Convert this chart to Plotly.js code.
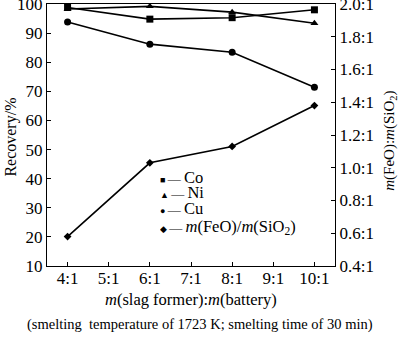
<!DOCTYPE html>
<html>
<head>
<meta charset="utf-8">
<script src="https://cdn.plot.ly/plotly-3.0.1.min.js"></script>
<style>html,body{margin:0;padding:0;background:#fff;}#chart{width:400px;height:340px;}</style>
</head>
<body>
<div id="chart"></div>
<script>
var categories = [4, 6, 8, 10];
var xTickVals = [4, 5, 6, 7, 8, 9, 10];
var xTickText = ['4:1', '5:1', '6:1', '7:1', '8:1', '9:1', '10:1'];
var coRecovery = [98.8, 94.8, 95.3, 98.0];
var niRecovery = [98.3, 99.2, 97.2, 93.4];
var cuRecovery = [93.8, 86.2, 83.4, 71.4];
var feoSio2Ratio = [0.58, 1.03, 1.13, 1.38];
var y2TickVals = [0.4, 0.6, 0.8, 1.0, 1.2, 1.4, 1.6, 1.8, 2.0];
var y2TickText = ['0.4:1', '0.6:1', '0.8:1', '1.0:1', '1.2:1', '1.4:1', '1.6:1', '1.8:1', '2.0:1'];

var font = 'Liberation Serif, Times New Roman, serif';
var lineStyle = {color: '#000', width: 1.6};

var traces = [
  {x: categories, y: coRecovery, name: 'Co', mode: 'lines+markers', line: lineStyle,
   marker: {symbol: 'square', size: 7, color: '#000'}},
  {x: categories, y: niRecovery, name: 'Ni', mode: 'lines+markers', line: lineStyle,
   marker: {symbol: 'triangle-up', size: 7, color: '#000'}},
  {x: categories, y: cuRecovery, name: 'Cu', mode: 'lines+markers', line: lineStyle,
   marker: {symbol: 'circle', size: 7, color: '#000'}},
  {x: categories, y: feoSio2Ratio, name: 'm(FeO)/m(SiO2)', mode: 'lines+markers', line: lineStyle,
   marker: {symbol: 'diamond', size: 6, color: '#000'}, yaxis: 'y2'}
];

function sym(s) { return '<span style="font-size:9px">' + s + ' </span><span style="font-size:13px">— </span>'; }
var legendRows = [
  {t: sym('■') + 'Co', y: 0.338, h: 15},
  {t: sym('▲') + 'Ni', y: 0.279, h: 15},
  {t: sym('●') + 'Cu', y: 0.220, h: 15},
  {t: sym('◆') + '<i>m</i>(FeO)/<i>m</i>(SiO<sub>2</sub>)', y: 0.150, h: 18}
];

var annotations = legendRows.map(function (r) {
  return {xref: 'paper', yref: 'paper', x: 0.385, y: r.y, xanchor: 'left', yanchor: 'middle',
          height: r.h, text: r.t, showarrow: false, font: {family: font, size: 16.5, color: '#000'}};
});
annotations.push(
  {xref: 'paper', yref: 'paper', x: 0.5, y: -0.127, xanchor: 'center', yanchor: 'middle',
   text: '<i>m</i>(slag former):<i>m</i>(battery)', showarrow: false,
   font: {family: font, size: 16.5, color: '#000'}},
  {xref: 'paper', yref: 'paper', x: 0.53, y: -0.225, xanchor: 'center', yanchor: 'middle',
   text: '(smelting  temperature of 1723 K; smelting time of 30 min)', showarrow: false,
   font: {family: font, size: 14.5, color: '#000'}},
  {xref: 'paper', yref: 'paper', x: -0.125, y: 0.49, xanchor: 'center', yanchor: 'middle',
   text: 'Recovery/%', textangle: -90, showarrow: false,
   font: {family: font, size: 16, color: '#000'}},
  {xref: 'paper', yref: 'paper', x: 1.19, y: 0.477, xanchor: 'center', yanchor: 'middle',
   text: '<i>m</i>(FeO):<i>m</i>(SiO<sub>2</sub>)', textangle: -90, showarrow: false,
   font: {family: font, size: 15, color: '#000'}}
);

var layout = {
  width: 400, height: 340,
  margin: {l: 47, r: 65, t: 4, b: 74},
  paper_bgcolor: '#fff', plot_bgcolor: '#fff',
  showlegend: false,
  font: {family: font, size: 17, color: '#000'},
  xaxis: {range: [3.5, 10.5], tickvals: xTickVals, ticktext: xTickText, ticklabelstandoff: -4,
          ticks: 'inside', ticklen: 4, tickcolor: '#000', showgrid: false, zeroline: false,
          showline: true, linecolor: '#000', linewidth: 1.2, mirror: true,
          tickfont: {family: font, size: 17}},
  yaxis: {range: [10, 100], dtick: 10, tick0: 10, ticklabeloverflow: 'allow',
          ticks: 'inside', ticklen: 4, tickcolor: '#000', showgrid: false, zeroline: false,
          showline: true, linecolor: '#000', linewidth: 1.2, mirror: false,
          tickfont: {family: font, size: 17}},
  yaxis2: {range: [0.4, 2.0], overlaying: 'y', side: 'right', tickvals: y2TickVals, ticktext: y2TickText,
           ticklabeloverflow: 'allow',
           ticks: 'inside', ticklen: 4, tickcolor: '#000', showgrid: false, zeroline: false,
           showline: true, linecolor: '#000', linewidth: 1.2,
           tickfont: {family: font, size: 17}},
  annotations: annotations
};

Plotly.newPlot('chart', traces, layout, {staticPlot: true, displayModeBar: false});
</script>
</body>
</html>
